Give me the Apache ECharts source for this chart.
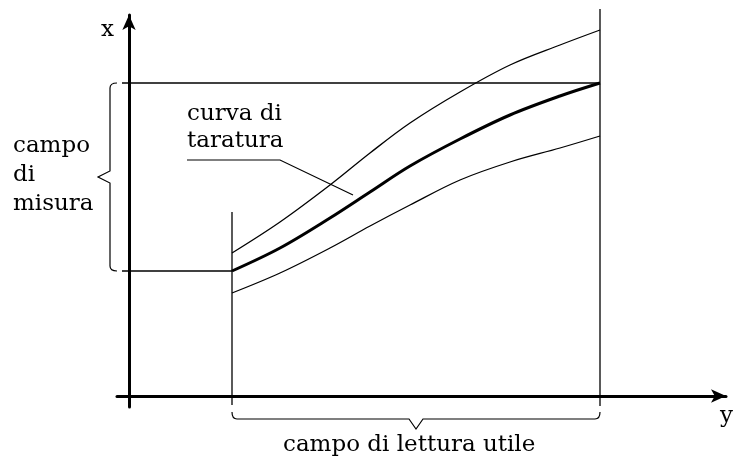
<!DOCTYPE html>
<html>
<head>
<meta charset="utf-8">
<script src="https://cdn.jsdelivr.net/npm/echarts@6/dist/echarts.min.js"></script>
<style>
html,body{margin:0;padding:0;background:#fff;}
#chart{width:734px;height:459px;}
</style>
</head>
<body>
<div id="chart"></div>
<script>
// letture y (asse orizzontale) dove sono campionate le curve
var yLettura = [103, 151, 201, 241, 281, 331, 381, 431, 471];
// curva di taratura e le due curve della fascia
var xTaratura = [125, 148, 178, 204, 230, 257, 281, 300, 313];
var xSuperiore = [143, 174, 211, 243, 273, 304, 331, 351, 366];
var xInferiore = [103, 123, 148, 170, 191, 216, 234, 248, 260];
// campo di misura (x) e campo di lettura utile (y)
var campoMisura = [125, 313];
var campoLettura = [103, 471];
// fin dove arrivano le due verticali di estremo
var verticali = [184, 387];

var SERIF = 'DejaVu Serif';

function zip(a, b) {
  return a.map(function (v, i) { return [v, b[i]]; });
}

function curve(data, width) {
  return {
    type: 'line', data: data, smooth: 0.35, symbol: 'none', clip: false,
    lineStyle: { color: '#000', width: width }, z: 3
  };
}

function guide(data) {
  return {
    type: 'line', data: data, symbol: 'none', clip: false,
    lineStyle: { color: '#000', width: 1.3 }, z: 2
  };
}

function testo(text, left, top, lh) {
  return {
    text: text, left: left, top: top, padding: 0,
    textStyle: {
      color: '#000', fontFamily: SERIF, fontSize: 23,
      fontWeight: 'normal', lineHeight: lh || 29
    }
  };
}

var chart = echarts.init(document.getElementById('chart'));

chart.setOption({
  animation: false,
  backgroundColor: '#fff',
  title: [
    testo('x', 101, 16),
    testo('y', 720, 402),
    testo('campo\ndi\nmisura', 13, 132, 29),
    testo('curva di\ntaratura', 187, 101, 27),
    testo('campo di lettura utile', 283, 431)
  ],
  grid: { left: 117, right: 8, top: 15, bottom: 52 },
  xAxis: {
    type: 'value', min: -12, max: 597,
    axisLine: {
      onZero: true, symbol: ['none', 'arrow'], symbolSize: [10, 15],
      lineStyle: { color: '#000', width: 3 }
    },
    axisTick: { show: false }, axisLabel: { show: false }, splitLine: { show: false }
  },
  yAxis: {
    type: 'value', min: -11, max: 381,
    axisLine: {
      onZero: true, symbol: ['none', 'arrow'], symbolSize: [10, 15],
      lineStyle: { color: '#000', width: 3 }
    },
    axisTick: { show: false }, axisLabel: { show: false }, splitLine: { show: false }
  },
  series: [
    guide([[campoLettura[0], -9], [campoLettura[0], verticali[0]]]),
    guide([[campoLettura[1], -10], [campoLettura[1], verticali[1]]]),
    guide([[-7, campoMisura[0]], [campoLettura[0], campoMisura[0]]]),
    guide([[-7, campoMisura[1]], [campoLettura[1], campoMisura[1]]]),
    curve(zip(yLettura, xSuperiore), 1.3),
    curve(zip(yLettura, xInferiore), 1.3),
    curve(zip(yLettura, xTaratura), 3),
    {
      // graffa del campo di misura
      type: 'custom', clip: false, z: 4,
      data: [campoMisura],
      renderItem: function (params, api) {
        var o = api.coord([0, 0]);
        var top = api.coord([0, api.value(1)])[1];
        var bot = api.coord([0, api.value(0)])[1];
        var x0 = o[0] - 19, xe = o[0] - 12, xt = o[0] - 31, ym = (top + bot) / 2;
        var d = 'M' + xe + ',' + top + ' Q' + x0 + ',' + top + ' ' + x0 + ',' + (top + 5) +
          ' L' + x0 + ',' + (ym - 6) + ' L' + xt + ',' + ym + ' L' + x0 + ',' + (ym + 6) +
          ' L' + x0 + ',' + (bot - 5) + ' Q' + x0 + ',' + bot + ' ' + xe + ',' + bot;
        return { type: 'path', shape: { pathData: d }, style: { fill: 'none', stroke: '#000', lineWidth: 1.2 } };
      }
    },
    {
      // graffa del campo di lettura utile
      type: 'custom', clip: false, z: 4,
      data: [campoLettura],
      renderItem: function (params, api) {
        var o = api.coord([0, 0]);
        var xl = api.coord([api.value(0), 0])[0];
        var xr = api.coord([api.value(1), 0])[0];
        var ye = o[1] + 16, yh = o[1] + 23, yt = o[1] + 33, xm = (xl + xr) / 2;
        var d = 'M' + xl + ',' + ye + ' Q' + xl + ',' + yh + ' ' + (xl + 5) + ',' + yh +
          ' L' + (xm - 7) + ',' + yh + ' L' + xm + ',' + yt + ' L' + (xm + 7) + ',' + yh +
          ' L' + (xr - 5) + ',' + yh + ' Q' + xr + ',' + yh + ' ' + xr + ',' + ye;
        return { type: 'path', shape: { pathData: d }, style: { fill: 'none', stroke: '#000', lineWidth: 1.2 } };
      }
    }
  ],
  graphic: [
    // sottolineatura e richiamo verso la curva di taratura
    { type: 'polyline', shape: { points: [[187, 160], [280, 160], [353, 195]] }, style: { stroke: '#000', lineWidth: 1.2, fill: 'none' } }
  ]
});
</script>
</body>
</html>
